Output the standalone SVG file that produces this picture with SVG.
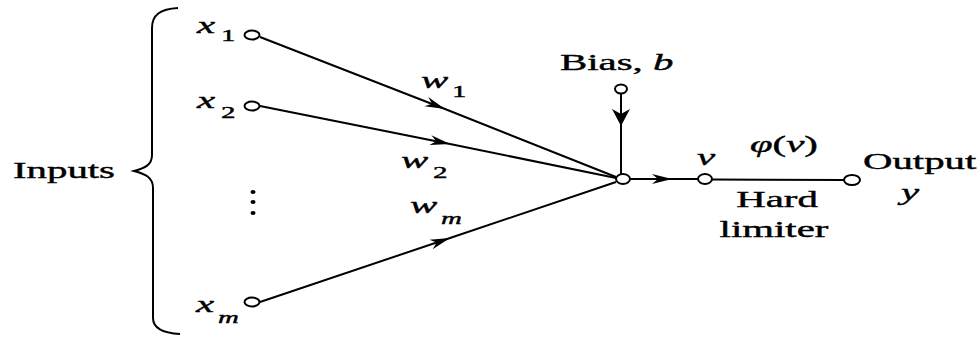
<svg xmlns="http://www.w3.org/2000/svg" width="977" height="339" viewBox="0 0 977 339">
<style>
.t{font-family:"Liberation Serif","Times New Roman",serif;font-size:24px;fill:#000;stroke:#000;stroke-width:0.4}
.i{font-style:italic}
.s{font-size:17px}
.ln{fill:none;stroke:#000;stroke-width:2}
.nd{fill:#fff;stroke:#000;stroke-width:2}
.arr{marker-mid:url(#ah)}
</style>
<defs>
<marker id="ah" viewBox="-20 -6 21 12" refX="0" refY="0" markerWidth="21" markerHeight="12" markerUnits="userSpaceOnUse" orient="auto">
<path d="M0,0 L-20,-5 L-14,0 L-20,5 Z" fill="#000"/>
</marker>
<marker id="ahv" viewBox="-17 -10 18 20" refX="0" refY="0" markerWidth="18" markerHeight="20" markerUnits="userSpaceOnUse" orient="auto">
<path d="M0,0 L-17,-9 L-12,0 L-17,9 Z" fill="#000"/>
</marker>
</defs>
<rect width="977" height="339" fill="#fff"/>
<g id="connectors">
<path class="ln arr" d="M260,37 L445,109 L616,177"/>
<path class="ln arr" d="M260,106 L450,144 L616,178"/>
<path class="ln arr" d="M260,302 L450,238 L616,182"/>
<path class="ln" style="marker-mid:url(#ahv)" d="M621,93.5 L621,126 L621,174"/>
<path class="ln arr" d="M630,179 L672,179 L698,179"/>
<path class="ln" d="M712,179.5 L844,180"/>
</g>
<g id="brace">
<path class="ln" d="M178,8 C160,9 152,15 152,28 L152,155 C152,165 145,168 134,171 C145,174 153,177 153,188 L153,318 C153,328 162,333 180,334"/>
<text class="t" transform="translate(13,178) scale(1.7,1)">Inputs</text>
</g>
<g id="x1">
<ellipse class="nd" cx="252" cy="35" rx="7.5" ry="4.5"/>
<text class="t i" transform="translate(197,33) scale(1.7,1)">x</text>
<text class="t s" transform="translate(221,41) scale(1.7,1)">1</text>
</g>
<g id="x2">
<ellipse class="nd" cx="252" cy="106" rx="7.5" ry="4.5"/>
<text class="t i" transform="translate(197,108) scale(1.7,1)">x</text>
<text class="t s" transform="translate(221,118) scale(1.7,1)">2</text>
</g>
<g id="dots">
<ellipse cx="253" cy="192" rx="2.5" ry="2"/>
<ellipse cx="253" cy="202" rx="2.5" ry="2"/>
<ellipse cx="253" cy="213" rx="2.5" ry="2"/>
</g>
<g id="xm">
<ellipse class="nd" cx="252" cy="302" rx="7.5" ry="4.5"/>
<text class="t i" transform="translate(196,312) scale(1.7,1)">x</text>
<text class="t i s" transform="translate(218,323) scale(1.7,1)">m</text>
</g>
<g id="weights">
<text class="t i" transform="translate(421,88) scale(1.7,1)">w</text>
<text class="t s" transform="translate(452,97) scale(1.7,1)">1</text>
<text class="t i" transform="translate(401,168) scale(1.7,1)">w</text>
<text class="t s" transform="translate(433,178) scale(1.7,1)">2</text>
<text class="t i" transform="translate(410,213) scale(1.7,1)">w</text>
<text class="t i s" transform="translate(441,224) scale(1.7,1)">m</text>
</g>
<g id="bias">
<ellipse class="nd" cx="621" cy="89" rx="6" ry="4.5"/>
<text class="t" transform="translate(560,70) scale(1.7,1)">Bias, <tspan class="i">b</tspan></text>
</g>
<g id="sum">
<ellipse class="nd" cx="623" cy="179" rx="7" ry="5"/>
</g>
<g id="v">
<ellipse class="nd" cx="705" cy="179" rx="7" ry="5"/>
<text class="t i" transform="translate(697,165) scale(1.7,1)">v</text>
</g>
<g id="limiter">
<text class="t" transform="translate(750,152) scale(1.7,1)"><tspan class="i">φ</tspan>(<tspan class="i">v</tspan>)</text>
<text class="t" text-anchor="middle" transform="translate(777,207) scale(1.7,1)">Hard</text>
<text class="t" text-anchor="middle" transform="translate(774,237) scale(1.7,1)">limiter</text>
</g>
<g id="output">
<ellipse class="nd" cx="852" cy="180" rx="8" ry="5"/>
<text class="t" transform="translate(863,169) scale(1.7,1)">Output</text>
<text class="t i" text-anchor="middle" transform="translate(910,200) scale(1.7,1)">y</text>
</g>
</svg>
